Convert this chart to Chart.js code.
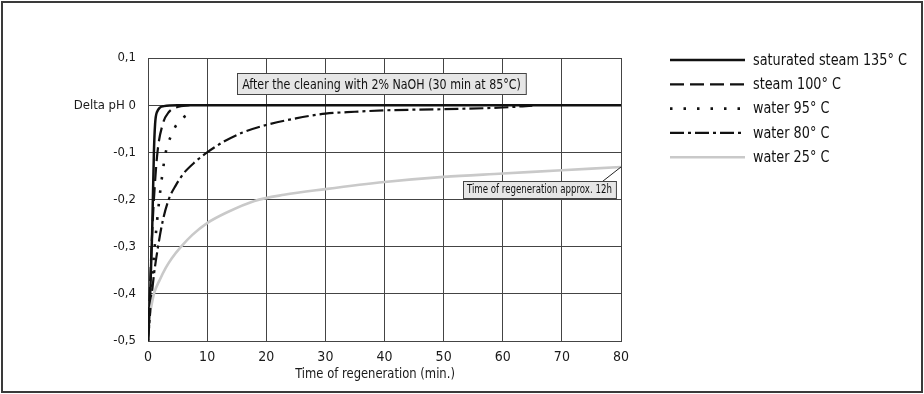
<!DOCTYPE html>
<html><head><meta charset="utf-8">
<script src="https://cdn.jsdelivr.net/npm/chart.js@4/dist/chart.umd.min.js"></script>
<style>html,body{margin:0;padding:0;background:#fff}#wrap{width:924px;height:394px;position:relative}canvas{display:block}</style>
</head><body><div id="wrap"><canvas id="c" width="924" height="394"></canvas></div>
<script>
const FONT = '"Liberation Sans Narrow", "Arial Narrow", "DejaVu Sans Condensed", "Liberation Sans", sans-serif';

// ---- data ----
const seriesNames = ['saturated steam 135° C', 'steam 100° C', 'water 95° C', 'water 80° C', 'water 25° C'];
const xTickValues = [0, 10, 20, 30, 40, 50, 60, 70, 80];
const yTickLabels = ['-0,5', '-0,4', '-0,3', '-0,2', '-0,1', 'Delta pH 0', '0,1'];

const sat135T  = [0, 0.35, 0.7, 1.0, 1.2, 1.5, 2.7, 5, 80];
const sat135PH = [-0.5, -0.41, -0.27, -0.1, -0.04, -0.015, -0.002, 0, 0];

const steam100T  = [0, 0.3, 0.6, 1.0, 1.6, 2.5, 3.5, 5, 7];
const steam100PH = [-0.5, -0.4, -0.3, -0.2, -0.1, -0.04, -0.015, -0.004, 0];

const water95T  = [0, 0.5, 1.0, 1.5, 2.0, 2.5, 3.0, 4.0, 5.0, 6.0, 7.5];
const water95PH = [-0.5, -0.4, -0.32, -0.25, -0.19, -0.14, -0.1, -0.062, -0.038, -0.026, -0.015];

const water80T  = [0, 0.5, 1.0, 1.7, 2.5, 3.5, 4.7, 6, 8, 10, 13, 16, 20, 25, 30, 35, 40, 50, 60, 65];
const water80PH = [-0.5, -0.42, -0.36, -0.30, -0.245, -0.2, -0.17, -0.145, -0.12, -0.1, -0.076, -0.058, -0.042, -0.028, -0.018, -0.014, -0.011, -0.0085, -0.005, -0.001];

const water25T  = [0.5, 1, 2, 3, 4, 5.6, 7.5, 10, 13.4, 18, 23, 30, 40, 50, 60, 70, 80];
const water25PH = [-0.43, -0.40, -0.37, -0.345, -0.325, -0.30, -0.275, -0.25, -0.227, -0.203, -0.19, -0.178, -0.163, -0.152, -0.145, -0.138, -0.131];

const noteTop = 'After the cleaning with 2% NaOH (30 min at 85°C)';
const noteRegen = 'Time of regeneration approx. 12h';
const xTitle = 'Time of regeneration (min.)';

// ---- build ----
const pts = (t, v) => t.map((x, i) => ({x, y: v[i]}));
const styles = [
  {borderColor: '#111', borderWidth: 2.5, borderDash: []},
  {borderColor: '#111', borderWidth: 2.2, borderDash: [14, 6]},
  {borderColor: '#111', borderWidth: 2.6, borderDash: [2.5, 11]},
  {borderColor: '#111', borderWidth: 2.2, borderDash: [14, 4, 3, 4]},
  {borderColor: '#c9c9c9', borderWidth: 2.6, borderDash: []}
];
const seriesData = [pts(sat135T, sat135PH), pts(steam100T, steam100PH), pts(water95T, water95PH), pts(water80T, water80PH), pts(water25T, water25PH)];
const datasets = seriesData.map((d, i) => Object.assign({
  label: seriesNames[i], data: d, pointRadius: 0, fill: false,
  cubicInterpolationMode: 'monotone', borderCapStyle: 'butt', order: 5 - i
}, styles[i]));

function condensedText(ctx, text, x, y, factor) {
  const w = ctx.measureText(text).width;
  ctx.fillText(text, x, y, w * factor);
  return w * factor;
}

const decor = {
  id: 'decor',
  afterDraw(chart) {
    const ctx = chart.ctx, xs = chart.scales.x, ys = chart.scales.y;
    ctx.save();
    // top annotation box
    (function () {
      ctx.font = '14px ' + FONT;
      const tw = ctx.measureText(noteTop).width * 0.88;
      const w = tw + 10, h = 21;
      const cx = xs.getPixelForValue(39.5), cy = ys.getPixelForValue(0.045);
      const x = Math.round(cx - w / 2) + 0.5, y = Math.round(cy - h / 2) + 0.5;
      ctx.fillStyle = '#e6e6e6'; ctx.fillRect(x, y, w, h);
      ctx.strokeStyle = '#444'; ctx.lineWidth = 1; ctx.strokeRect(x, y, w, h);
      ctx.fillStyle = '#111'; ctx.textAlign = 'center'; ctx.textBaseline = 'middle';
      ctx.fillText(noteTop, cx, cy + 1, tw);
    })();
    // regeneration note
    (function () {
      ctx.font = '12px ' + FONT;
      const tw = ctx.measureText(noteRegen).width * 0.8;
      const w = tw + 8, h = 17;
      const cx = xs.getPixelForValue(66.2), cy = ys.getPixelForValue(-0.178);
      const x = Math.round(cx - w / 2) + 0.5, y = Math.round(cy - h / 2) + 0.5;
      ctx.strokeStyle = '#222'; ctx.lineWidth = 1;
      ctx.beginPath(); ctx.moveTo(x + w - 14, y); ctx.lineTo(xs.getPixelForValue(80), ys.getPixelForValue(-0.131)); ctx.stroke();
      ctx.fillStyle = '#e6e6e6'; ctx.fillRect(x, y, w, h);
      ctx.strokeStyle = '#444'; ctx.strokeRect(x, y, w, h);
      ctx.fillStyle = '#111'; ctx.textAlign = 'center'; ctx.textBaseline = 'middle';
      ctx.fillText(noteRegen, cx, cy + 1, tw);
    })();
    // x axis title
    ctx.font = '14px ' + FONT; ctx.fillStyle = '#1a1a1a'; ctx.textAlign = 'center'; ctx.textBaseline = 'middle';
    const xtw = ctx.measureText(xTitle).width * 0.92;
    ctx.fillText(xTitle, xs.getPixelForValue(38.4), 374, xtw);
    // legend
    chart.data.datasets.forEach((ds, i) => {
      const y = 60 + i * 24.3;
      ctx.strokeStyle = ds.borderColor; ctx.lineWidth = ds.borderWidth; ctx.setLineDash(ds.borderDash || []);
      ctx.beginPath(); ctx.moveTo(670, y); ctx.lineTo(745, y); ctx.stroke();
      ctx.setLineDash([]);
      ctx.fillStyle = '#111'; ctx.font = '15px ' + FONT; ctx.textAlign = 'left'; ctx.textBaseline = 'middle';
      condensedText(ctx, ds.label, 753, y + 1, 0.95);
    });
    // outer frame
    ctx.strokeStyle = '#3a3a3a'; ctx.lineWidth = 2;
    ctx.strokeRect(2, 2, 920, 390);
    ctx.restore();
  }
};

new Chart(document.getElementById('c'), {
  type: 'line',
  data: {datasets},
  plugins: [decor],
  options: {
    responsive: false, animation: false, events: [],
    layout: {padding: {left: 0, right: 303, top: 58, bottom: 0}},
    plugins: {legend: {display: false}, tooltip: {enabled: false}},
    scales: {
      x: {
        type: 'linear', min: 0, max: 80,
        afterBuildTicks: s => { s.ticks = xTickValues.map(v => ({value: v})); },
        afterFit: s => { s.height = 53; },
        ticks: {color: '#1a1a1a', font: {family: FONT, size: 14}, padding: 8, maxRotation: 0},
        grid: {color: '#444', lineWidth: 1, drawTicks: false},
        border: {color: '#444', width: 1},
        title: {display: false}
      },
      y: {
        type: 'linear', min: -0.5, max: 0.1,
        afterBuildTicks: s => { s.ticks = yTickLabels.map((l, i) => ({value: Math.round((-0.5 + i * 0.1) * 10) / 10})); },
        afterFit: s => { s.width = 148; },
        ticks: {color: '#1a1a1a', font: {family: FONT, size: 13}, padding: 12,
          callback: (v) => yTickLabels[Math.round((v + 0.5) * 10)]},
        grid: {color: '#444', lineWidth: 1, drawTicks: false},
        border: {color: '#444', width: 1}
      }
    }
  }
});
</script></body></html>
